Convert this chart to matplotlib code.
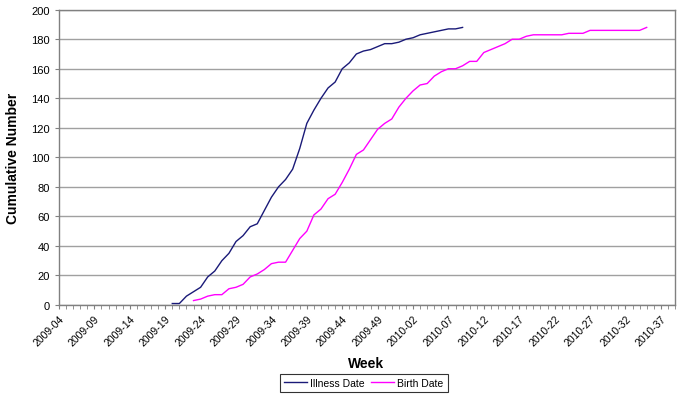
import matplotlib
matplotlib.use('Agg')
import matplotlib.pyplot as plt
from matplotlib.ticker import MultipleLocator

plt.rcParams['font.family'] = ['Liberation Sans', 'DejaVu Sans']

# 周次类别：2009-04 到 2010-39（2009 年按 52 周计）
weeks = [f'2009-{w:02d}' for w in range(4, 53)] + [f'2010-{w:02d}' for w in range(1, 40)]

# 发病日期累计数，从 2009-20 开始
illness_start = '2009-20'
illness = [1, 1, 6, 9, 12, 19, 23, 30, 35, 43, 47, 53, 55, 64, 73, 80, 85, 92,
           106, 123, 132, 140, 147, 151, 160, 164, 170, 172, 173, 175, 177, 177,
           178, 180, 181, 183, 184, 185, 186, 187, 187, 188]

# 出生日期累计数，从 2009-23 开始
birth_start = '2009-23'
birth = [3, 4, 6, 7, 7, 11, 12, 14, 19, 21, 24, 28, 29, 29, 37, 45, 50, 61, 65,
         72, 75, 83, 92, 102, 105, 112, 119, 123, 126, 134, 140, 145, 149, 150,
         155, 158, 160, 160, 162, 165, 165, 171, 173, 175, 177, 180, 180, 182,
         183, 183, 183, 183, 183, 184, 184, 184, 186, 186, 186, 186, 186, 186,
         186, 186, 188]

fig = plt.figure(figsize=(6.83, 4.02), dpi=100)
ax = fig.add_axes([59 / 683, 1 - 306 / 402, 616 / 683, 295.3 / 402])

i0 = weeks.index(illness_start)
b0 = weeks.index(birth_start)
ax.plot(range(i0, i0 + len(illness)), illness, color='#1a1a78', lw=1.0, label='Illness Date', zorder=3)
ax.plot(range(b0, b0 + len(birth)), birth, color='#ff00ff', lw=1.0, label='Birth Date', zorder=3)

ax.set_xlim(0, len(weeks) - 1)
ax.set_ylim(0, 200)
ax.yaxis.set_major_locator(MultipleLocator(20))
ax.grid(axis='y', color='#a0a0a0', lw=1.0)
ax.set_axisbelow(True)

# x 轴：每周一个小刻度，每 5 周一个标签
ax.set_xticks(range(0, len(weeks), 5))
ax.set_xticklabels(weeks[::5], rotation=45, ha='right', va='top', rotation_mode='anchor', fontsize=7.5)
ax.set_xticks(range(len(weeks)), minor=True)
ax.tick_params(axis='x', which='both', direction='out', length=3, color='#808080', pad=3)
ax.tick_params(axis='y', which='both', length=3, color='#808080', labelsize=8)

for s in ax.spines.values():
    s.set_color('#808080')
    s.set_linewidth(1.0)

ax.set_ylabel('Cumulative Number', fontsize=10, fontweight='bold')
ax.yaxis.set_label_coords(-0.063, 0.5)
ax.set_xlabel('Week', fontsize=10, fontweight='bold')
ax.xaxis.set_label_coords(0.498, -0.173)

leg = fig.legend(loc='center', bbox_to_anchor=(364 / 683, 1 - 384 / 402), ncol=2,
                 fontsize=7.5, frameon=True, fancybox=False, edgecolor='black',
                 handlelength=2.2, columnspacing=0.6, handletextpad=0.3, borderpad=0.4)
leg.get_frame().set_linewidth(0.8)

fig.savefig('out.png', dpi=100)
